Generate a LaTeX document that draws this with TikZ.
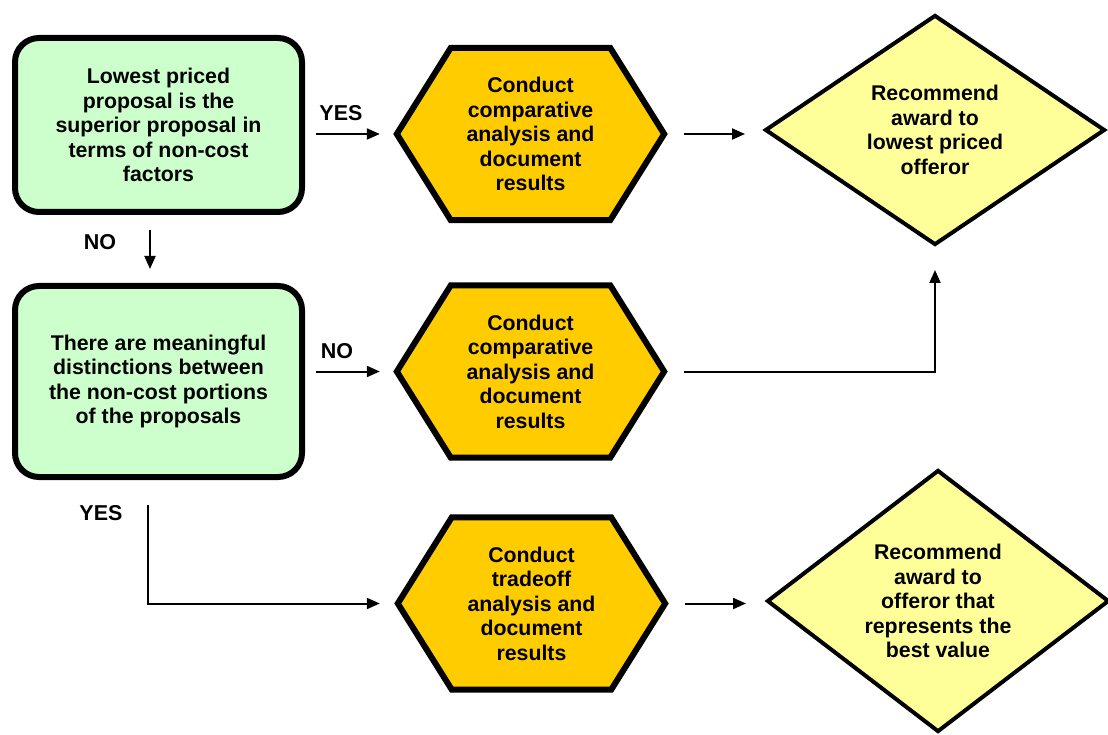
\documentclass[tikz,border=0pt]{standalone}
\usepackage{fontspec}
\setmainfont{Liberation Sans}
\usetikzlibrary{arrows.meta,shapes.geometric,backgrounds}
\definecolor{boxgreen}{HTML}{CCFFCC}
\definecolor{hexorange}{HTML}{FFCC00}
\definecolor{diayellow}{HTML}{FFFF99}
\begin{document}
\begin{tikzpicture}[x=1pt,y=-1pt,
  txt/.style={font=\bfseries\fontsize{21.3}{24.5}\selectfont, align=center},
  decision/.style={txt, draw, line width=6pt, rounded corners=24pt, fill=boxgreen, minimum width=287pt, minimum height=174pt, inner sep=0pt},
  hexbox/.style={txt, minimum width=267pt, minimum height=172pt, inner sep=0pt},
  hexa/.style={draw, line width=6pt, fill=hexorange, line join=miter},
  award/.style={txt, diamond, draw, line width=4pt, fill=diayellow, inner sep=0pt, aspect=1.47},
  arr/.style={line width=2pt, -{Triangle[length=13pt,width=11pt]}},
  lbl/.style={font=\bfseries\fontsize{21.5}{24}\selectfont}
]
\useasboundingbox (0,0) rectangle (1108,735);

% decision boxes
\node[decision] (b1) at (158.5,125) {Lowest priced\\proposal is the\\superior proposal in\\terms of non-cost\\factors};
\node[decision, minimum height=191pt] (b2) at (158.5,381.5) {There are meaningful\\distinctions between\\the non-cost portions\\of the proposals};

% hexagon texts
\node[hexbox] (h1) at (530.5,134) {Conduct\\comparative\\analysis and\\document\\results};
\node[hexbox] (h2) at (530.5,371.5) {Conduct\\comparative\\analysis and\\document\\results};
\node[hexbox] (h3) at (531.5,603.5) {Conduct\\tradeoff\\analysis and\\document\\results};

% hexagon outlines
\begin{scope}[on background layer]
\foreach \h in {h1,h2,h3}
  \draw[hexa] (\h.west) -- ([xshift=54pt]\h.north west) -- ([xshift=-54pt]\h.north east)
    -- (\h.east) -- ([xshift=-54pt]\h.south east) -- ([xshift=54pt]\h.south west) -- cycle;
\end{scope}

% award diamonds
\node[award, minimum width=340pt, minimum height=230pt] (d1) at (935,130) {Recommend\\award to\\lowest priced\\offeror};
\node[award, minimum width=342pt, minimum height=262pt] (d2) at (938,601) {Recommend\\award to\\offeror that\\represents the\\best value};

% labels
\node[lbl] (lyes1) at (341,113) {YES};
\node[lbl] (lno1) at (100,242) {NO};
\node[lbl] (lno2) at (337,351) {NO};
\node[lbl] (lyes2) at (101,513) {YES};

% connectors
\coordinate (n0) at (150,230);
\coordinate (y0) at (148,505);
\draw[arr, shorten <=11pt, shorten >=17pt] (b1.east |- h1.west) -- (h1.west);
\draw[arr, shorten <=20pt, shorten >=18pt] (h1.east) -- (h1.east -| d1.west);
\draw[arr, shorten >=14pt] (n0) -- (n0 |- b2.north);
\draw[arr, shorten <=11pt, shorten >=17pt] (b2.east |- h2.west) -- (h2.west);
\draw[arr, shorten <=20pt, shorten >=23pt] (h2.east) -- (h2.east -| d1.south) -- (d1.south);
\draw[arr, shorten >=18pt] (y0) |- (h3.west);
\draw[arr, shorten <=20pt, shorten >=19pt] (h3.east) -- (h3.east -| d2.west);
\end{tikzpicture}
\end{document}
